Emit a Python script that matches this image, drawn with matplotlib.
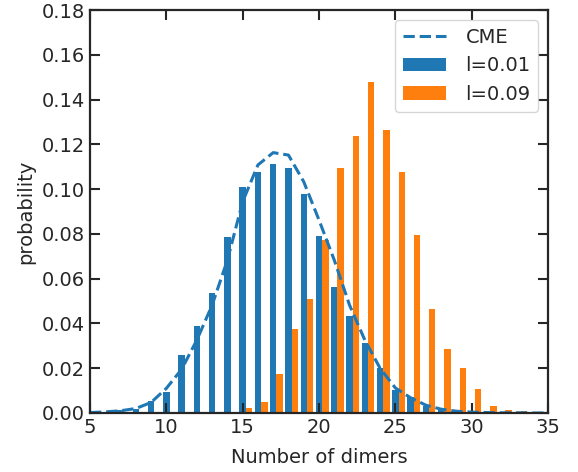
import numpy as np
import matplotlib
matplotlib.use("Agg")
import matplotlib.pyplot as plt

# Dimer counts and probabilities
n_cme = np.arange(5, 36)
p_cme = [0.0002, 0.0005, 0.0010, 0.0020, 0.0047, 0.0110, 0.0195, 0.0326, 0.0482,
         0.0683, 0.0944, 0.1108, 0.1163, 0.1152, 0.1033, 0.0862, 0.0683, 0.0482,
         0.0326, 0.0200, 0.0112, 0.0068, 0.0035, 0.0017, 0.0008, 0.0004, 0.0002,
         0.0001, 0.0001, 0.0000, 0.0000]

n_low = np.arange(5, 34)
p_low = [0.0003, 0.0006, 0.0013, 0.0018, 0.0054, 0.0094, 0.0259, 0.0389, 0.0535,
         0.0786, 0.1009, 0.1076, 0.1112, 0.1094, 0.0978, 0.0791, 0.0563, 0.0433,
         0.0313, 0.0201, 0.0103, 0.0071, 0.0033, 0.0016, 0.0010, 0.0005, 0.0003,
         0.0002, 0.0001]

n_high = np.arange(15, 34)
p_high = [0.0024, 0.0049, 0.0174, 0.0375, 0.0509, 0.0773, 0.1094, 0.1237, 0.1478,
          0.1264, 0.1076, 0.0795, 0.0464, 0.0286, 0.0201, 0.0107, 0.0031, 0.0013,
          0.0009]

plt.rcParams.update({
    "font.family": "DejaVu Sans",
    "font.size": 14,
    "text.color": "0.15",
    "axes.labelcolor": "0.15",
    "axes.edgecolor": "0.15",
    "xtick.color": "0.15",
    "ytick.color": "0.15",
    "xtick.direction": "in",
    "ytick.direction": "in",
    "xtick.top": True,
    "ytick.right": True,
})

fig = plt.figure(figsize=(5.78, 4.72), dpi=100)
ax = fig.add_axes([0.1557, 0.125, 0.7924, 0.8538])

w = 0.42
ax.plot(n_cme, p_cme, "--", color="tab:blue", lw=2.2, label="CME")
ax.bar(n_low, p_low, width=w, color="tab:blue", label="l=0.01")
ax.bar(n_high + w, p_high, width=w, color="tab:orange", label="l=0.09")

ax.set_xlim(5, 35)
ax.set_ylim(0, 0.18)
ax.set_xticks(np.arange(5, 36, 5))
ax.set_yticks(np.arange(0, 0.181, 0.02))
ax.yaxis.set_major_formatter(matplotlib.ticker.FormatStrFormatter("%.2f"))
ax.tick_params(length=7, width=1.5, labelsize=14)
for s in ax.spines.values():
    s.set_linewidth(1.6)

ax.set_xlabel("Number of dimers", fontsize=14, labelpad=8)
ax.set_ylabel("probability", fontsize=14, labelpad=5)
ax.legend(loc="upper right", fontsize=14, handlelength=2.2, handletextpad=1.0,
          borderaxespad=0.5)

fig.savefig("out.png", dpi=100)
